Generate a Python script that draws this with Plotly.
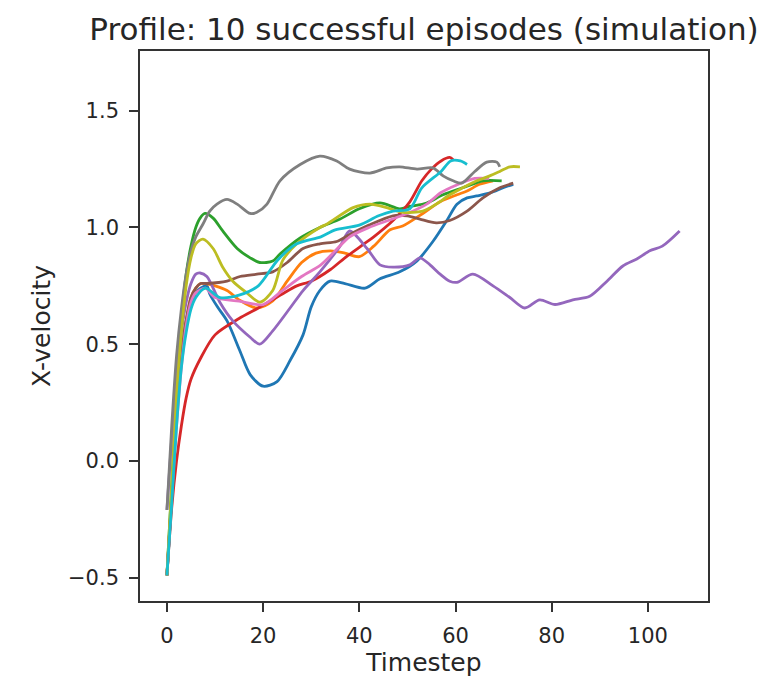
import plotly.graph_objects as go

title_text = "Profile: 10 successful episodes (simulation)"
x_label = "Timestep"
y_label = "X-velocity"
x_ticks = [0, 20, 40, 60, 80, 100]
y_ticks = [-0.5, 0.0, 0.5, 1.0, 1.5]
y_tick_text = ["\u22120.5", "0.0", "0.5", "1.0", "1.5"]

blue_t = [0, 1, 2, 3, 4, 5, 6, 7, 8.3, 8.9, 10.5, 12.5, 15.2, 17.3, 20, 22.9, 25.6, 28.3, 30, 31.8, 33.9, 37, 41.2, 44.3, 48.4, 52, 55.3, 58.2, 60.3, 62.4, 64.4, 67.2, 69.9, 72]
blue_v = [-0.49, -0.15, 0.2, 0.45, 0.6, 0.68, 0.72, 0.74, 0.75, 0.715, 0.66, 0.6, 0.47, 0.37, 0.32, 0.34, 0.43, 0.54, 0.66, 0.73, 0.77, 0.76, 0.74, 0.78, 0.81, 0.857, 0.94, 1.03, 1.1, 1.127, 1.135, 1.148, 1.17, 1.185]

orange_t = [0, 1, 2, 3, 4, 5, 6, 7, 8, 10, 12.5, 15, 18.7, 22, 25, 28, 31, 34, 37, 40, 43, 46.4, 49, 53.2, 56.8, 60.3, 62.4, 65, 67.8]
orange_v = [-0.49, -0.15, 0.2, 0.45, 0.6, 0.7, 0.74, 0.76, 0.76, 0.75, 0.73, 0.69, 0.655, 0.685, 0.77, 0.85, 0.89, 0.9, 0.89, 0.875, 0.92, 0.99, 1.006, 1.06, 1.11, 1.14, 1.156, 1.185, 1.2]

green_t = [0, 1, 2, 3, 4, 5, 6, 6.9, 7.9, 9.6, 11.6, 14.6, 17.3, 19.3, 22, 23.5, 27.7, 31.8, 36, 40, 44.3, 48.4, 50.5, 54, 57.4, 61.5, 65.7, 69.6]
green_v = [-0.49, -0.1, 0.3, 0.6, 0.8, 0.92, 1.0, 1.04, 1.06, 1.04, 0.985, 0.91, 0.87, 0.85, 0.856, 0.886, 0.955, 1.0, 1.036, 1.08, 1.105, 1.08, 1.09, 1.105, 1.14, 1.17, 1.2, 1.2]

red_t = [0, 1, 2, 3, 4, 5, 7, 10, 15, 19, 24, 27, 30, 34, 37, 41, 43, 47, 50.5, 53, 55, 57, 58.8, 59.5]
red_v = [-0.49, -0.2, 0.0, 0.15, 0.27, 0.35, 0.44, 0.54, 0.61, 0.655, 0.715, 0.75, 0.77, 0.82, 0.87, 0.93, 0.96, 1.03, 1.11, 1.2, 1.25, 1.285, 1.3, 1.29]

purple_t = [0, 1, 2, 3, 4, 5, 6, 6.9, 8.3, 11, 13.7, 17.3, 19.3, 22, 25.6, 28.3, 31.8, 36, 38, 41.6, 44.3, 47, 50.5, 52.6, 54.7, 56.8, 58.8, 60.3, 63.6, 67.8, 71.3, 74.4, 77.5, 80.7, 84.4, 87.9, 91.5, 94.8, 97.7, 100.4, 103, 106.6]
purple_v = [-0.21, 0.1, 0.35, 0.55, 0.68, 0.76, 0.8, 0.805, 0.79, 0.68, 0.6, 0.53, 0.5, 0.557, 0.655, 0.73, 0.81, 0.92, 0.985, 0.91, 0.84, 0.83, 0.84, 0.87, 0.84, 0.8, 0.77, 0.765, 0.8, 0.75, 0.7, 0.655, 0.69, 0.67, 0.69, 0.705, 0.77, 0.835, 0.865, 0.9, 0.92, 0.985]

brown_t = [0, 1, 2, 3, 4, 5, 6, 7, 8.3, 12.5, 15.2, 18.7, 22, 25, 28.3, 31.8, 35.3, 38, 42, 47, 50, 52.6, 56, 58.8, 62.4, 65.7, 69.2, 72]
brown_v = [-0.49, -0.15, 0.2, 0.45, 0.6, 0.7, 0.74, 0.76, 0.76, 0.77, 0.79, 0.8, 0.81, 0.85, 0.91, 0.93, 0.94, 0.97, 1.01, 1.05, 1.05, 1.036, 1.02, 1.03, 1.07, 1.127, 1.17, 1.19]

pink_t = [0, 1, 2, 3, 4, 5, 6, 8, 10, 15, 20, 24, 28, 32, 35, 38, 42, 46, 50, 54, 57, 60, 64, 67]
pink_v = [-0.49, -0.15, 0.15, 0.4, 0.58, 0.68, 0.72, 0.74, 0.7, 0.685, 0.67, 0.73, 0.79, 0.84, 0.9, 0.96, 1.0, 1.03, 1.06, 1.1, 1.15, 1.18, 1.21, 1.21]

gray_t = [0, 1, 2, 3, 4, 5, 6, 7.5, 8.9, 10.4, 12.5, 14.6, 17.3, 18.7, 20.8, 23.5, 27.7, 31.8, 35.3, 38, 42.2, 45.7, 48.4, 52, 55.3, 57.5, 59.5, 61.3, 64, 66.5, 68.6, 69.2]
gray_v = [-0.21, 0.15, 0.45, 0.65, 0.8, 0.9, 0.96, 1.015, 1.07, 1.1, 1.12, 1.1, 1.06, 1.065, 1.1, 1.2, 1.27, 1.306, 1.285, 1.25, 1.233, 1.255, 1.26, 1.25, 1.255, 1.22, 1.2, 1.19, 1.24, 1.28, 1.28, 1.26]

olive_t = [0, 1, 2, 3, 4, 5, 6, 7.5, 9.6, 11.6, 13.7, 16.6, 19.3, 22, 24.1, 27, 31.8, 33.3, 38.7, 42.2, 45.7, 49, 53.2, 56, 58.8, 61.5, 64.4, 67, 69.2, 71.3, 73.4]
olive_v = [-0.49, -0.1, 0.28, 0.55, 0.75, 0.87, 0.93, 0.95, 0.91, 0.83, 0.77, 0.72, 0.68, 0.73, 0.86, 0.93, 1.0, 1.015, 1.085, 1.1, 1.085, 1.065, 1.07, 1.1, 1.14, 1.17, 1.2, 1.22, 1.24, 1.26, 1.26]

cyan_t = [0, 1, 2, 3, 4, 5, 6, 8, 11, 15, 19, 23, 27, 32, 35, 40, 44, 47, 50.5, 53, 57, 59, 61, 62.4]
cyan_v = [-0.49, -0.18, 0.15, 0.4, 0.55, 0.65, 0.7, 0.74, 0.7, 0.71, 0.75, 0.86, 0.93, 0.96, 0.99, 1.01, 1.05, 1.07, 1.08, 1.17, 1.24, 1.285, 1.285, 1.27]

series = [
    (blue_t, blue_v, "#1f77b4"),
    (orange_t, orange_v, "#ff7f0e"),
    (green_t, green_v, "#2ca02c"),
    (red_t, red_v, "#d62728"),
    (purple_t, purple_v, "#9467bd"),
    (brown_t, brown_v, "#8c564b"),
    (pink_t, pink_v, "#e377c2"),
    (gray_t, gray_v, "#7f7f7f"),
    (olive_t, olive_v, "#bcbd22"),
    (cyan_t, cyan_v, "#17becf"),
]

fig = go.Figure()
for t, v, c in series:
    fig.add_trace(go.Scatter(x=t, y=v, mode="lines",
                             line=dict(color=c, width=2.8, shape="spline", smoothing=0.8),
                             showlegend=False, hoverinfo="skip"))

font_family = "DejaVu Sans"
txt = "#262626"
axis_common = dict(showgrid=False, zeroline=False, showline=True, linecolor="#333333",
                   linewidth=1.6, mirror=True, ticks="outside", ticklen=9, tickwidth=1.6,
                   tickcolor="#333333", ticklabelstandoff=6,
                   tickfont=dict(family=font_family, size=21, color=txt))

L, R, T, B = 132, 74, 43, 91
fig.update_layout(
    width=774, height=684,
    margin=dict(l=L, r=R, t=T, b=B),
    paper_bgcolor="white", plot_bgcolor="white",
    title=dict(text=title_text, x=(L + (774 - L - R) / 2) / 774, xanchor="center",
               y=1 - 21 / 684, yanchor="middle",
               font=dict(family=font_family, size=31, color=txt)),
    xaxis=dict(range=[-5.6, 112.5], tickvals=x_ticks,
               title=dict(text=x_label, font=dict(family=font_family, size=25, color=txt), standoff=6),
               **axis_common),
    yaxis=dict(range=[-0.6, 1.756], tickvals=y_ticks, ticktext=y_tick_text,
               title=dict(text=y_label, font=dict(family=font_family, size=25, color=txt), standoff=10),
               **axis_common),
)
fig.write_html("out.html")
